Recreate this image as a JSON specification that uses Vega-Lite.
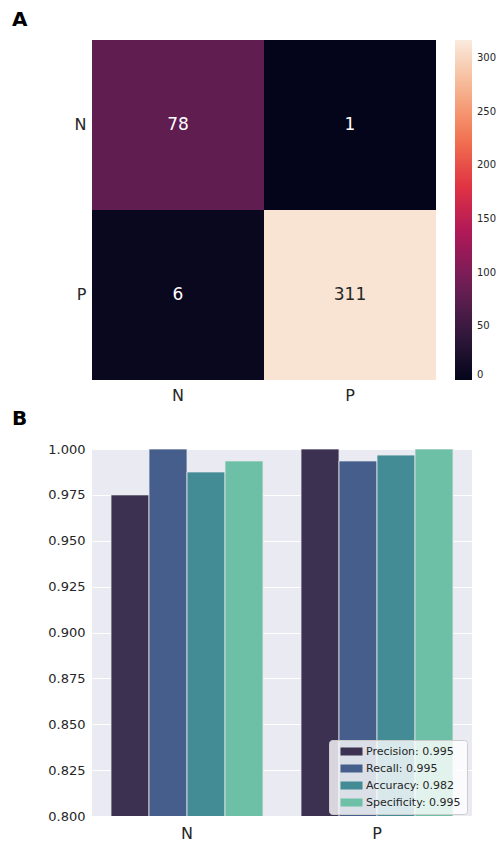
{
  "$schema": "https://vega.github.io/schema/vega-lite/v6.json",
  "background": "white",
  "padding": {"left": 12, "top": 10, "right": 0, "bottom": 0},
  "spacing": 6,
  "config": {
    "font": "DejaVu Sans",
    "view": {"stroke": null},
    "axis": {"labelFont": "DejaVu Sans", "labelColor": "#262626"},
    "legend": {"labelFont": "DejaVu Sans", "labelColor": "#262626"},
    "title": {"font": "DejaVu Sans"}
  },
  "vconcat": [
    {
      "title": {"text": "A", "anchor": "start", "frame": "group", "dx": -80, "fontSize": 20, "fontWeight": "bold", "color": "black", "offset": 10},
      "width": 344,
      "height": 340,
      "data": {
        "values": [
          {"actual": "N", "predicted": "N", "count": 78},
          {"actual": "N", "predicted": "P", "count": 1},
          {"actual": "P", "predicted": "N", "count": 6},
          {"actual": "P", "predicted": "P", "count": 311}
        ]
      },
      "encoding": {
        "x": {"field": "predicted", "type": "nominal", "scale": {"paddingInner": 0, "paddingOuter": 0},
          "axis": {"title": null, "labelAngle": 0, "labelFontSize": 16, "ticks": false, "domain": false, "labelPadding": 7}},
        "y": {"field": "actual", "type": "nominal", "scale": {"paddingInner": 0, "paddingOuter": 0},
          "axis": {"title": null, "labelFontSize": 16, "ticks": false, "domain": false, "labelPadding": 6}}
      },
      "layer": [
        {
          "mark": {"type": "rect"},
          "encoding": {
            "color": {
              "field": "count", "type": "quantitative",
              "scale": {
                "domain": [0, 45.29, 90.57, 135.86, 181.14, 226.43, 271.71, 317],
                "range": ["#03051a", "#35193e", "#701f57", "#ad1759", "#e13342", "#f37651", "#f6b48f", "#faebdd"],
                "interpolate": "rgb"
              },
              "legend": {
                "title": null, "orient": "right", "offset": 19, "padding": 0,
                "gradientLength": 340, "gradientThickness": 17, "gradientStrokeWidth": 0,
                "values": [0, 50, 100, 150, 200, 250, 300],
                "labelFontSize": 10, "labelOffset": 5
              }
            }
          }
        },
        {
          "mark": {"type": "text", "fontSize": 17},
          "encoding": {
            "text": {"field": "count", "type": "quantitative"},
            "color": {"condition": {"test": "datum.count > 200", "value": "#262626"}, "value": "white"}
          }
        }
      ]
    },
    {
      "title": {"text": "B", "anchor": "start", "frame": "group", "dx": -80, "fontSize": 20, "fontWeight": "bold", "color": "black", "offset": 14},
      "width": 380,
      "height": 367,
      "view": {"fill": "#EAEAF2", "stroke": null},
      "data": {
        "values": [
          {"class": "N", "metric": "Precision: 0.995", "value": 0.975},
          {"class": "N", "metric": "Recall: 0.995", "value": 1.0},
          {"class": "N", "metric": "Accuracy: 0.982", "value": 0.9875},
          {"class": "N", "metric": "Specificity: 0.995", "value": 0.9935},
          {"class": "P", "metric": "Precision: 0.995", "value": 1.0},
          {"class": "P", "metric": "Recall: 0.995", "value": 0.9935},
          {"class": "P", "metric": "Accuracy: 0.982", "value": 0.9967},
          {"class": "P", "metric": "Specificity: 0.995", "value": 1.0}
        ]
      },
      "mark": {"type": "bar", "clip": true, "stroke": "#e8e8ee", "strokeWidth": 0.8},
      "encoding": {
        "x": {"field": "class", "type": "nominal", "scale": {"paddingInner": 0.2, "paddingOuter": 0.1},
          "axis": {"title": null, "labelAngle": 0, "labelFontSize": 16, "ticks": false, "domain": false, "labelPadding": 9, "grid": false}},
        "xOffset": {"field": "metric", "type": "nominal",
          "scale": {"domain": ["Precision: 0.995", "Recall: 0.995", "Accuracy: 0.982", "Specificity: 0.995"], "paddingInner": 0, "paddingOuter": 0}},
        "y": {"field": "value", "type": "quantitative",
          "scale": {"domain": [0.8, 1.0], "zero": false, "nice": false},
          "axis": {"title": null, "values": [0.8, 0.825, 0.85, 0.875, 0.9, 0.925, 0.95, 0.975, 1.0], "format": ".3f",
            "grid": true, "gridColor": "white", "gridWidth": 1, "domain": false, "ticks": false, "labelFontSize": 13, "labelPadding": 7}},
        "color": {
          "field": "metric", "type": "nominal",
          "scale": {"domain": ["Precision: 0.995", "Recall: 0.995", "Accuracy: 0.982", "Specificity: 0.995"],
            "range": ["#3d3151", "#465e8c", "#438c95", "#6dc0a6"]},
          "legend": {
            "title": null, "orient": "none", "legendX": 237, "legendY": 291,
            "padding": 6, "fillColor": "rgba(255,255,255,0.8)", "strokeColor": "#cccccc", "cornerRadius": 3,
            "symbolType": "M0,-1H5.5V1H0Z", "symbolSize": 64, "symbolStrokeWidth": 0, "symbolOpacity": 1,
            "labelFontSize": 11, "labelOffset": 20, "rowPadding": 5
          }
        }
      }
    }
  ]
}
